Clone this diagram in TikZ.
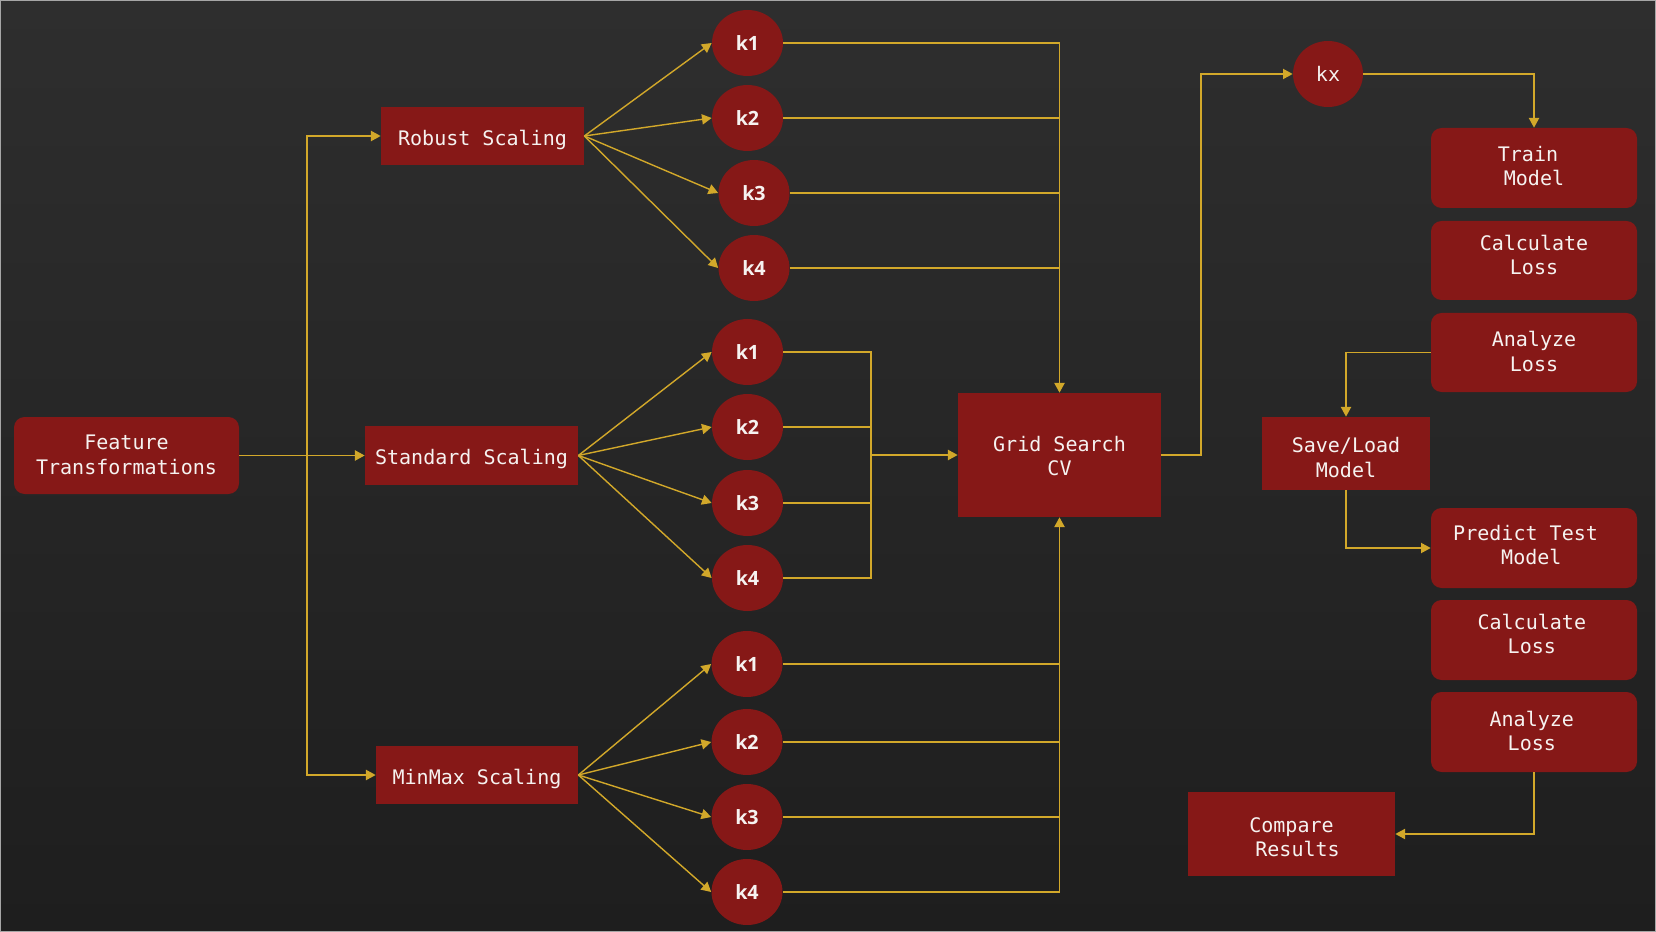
\documentclass[tikz,border=0pt]{standalone}
\usepackage{fontspec}
\usetikzlibrary{arrows.meta,shapes.geometric}
\newfontfamily\boxfont{DejaVu Sans Mono}
\newfontfamily\kfont{Open Sans}
\definecolor{bgtop}{HTML}{2E2E2E}
\definecolor{bgbot}{HTML}{1E1E1E}
\definecolor{boxred}{HTML}{861817}
\definecolor{linegold}{HTML}{D2A82A}
\definecolor{txt}{HTML}{F6F2F0}
\def\pxu{0.02cm}
% two-line label, shifted vertically by #1
\newcommand\twol[3]{\raisebox{\dimexpr#1-1.4pt\relax}[\height][\depth]{\begin{tabular}{@{}c@{}}#2\\#3\end{tabular}}}
% one-line label, shifted vertically by #1
\newcommand\onel[2]{\raisebox{#1}[\height][\depth]{#2}}
\tikzset{
  base/.style={fill=boxred, draw=none, text=txt, inner sep=0pt, align=center,
    font=\boxfont\fontsize{11.4}{14}\selectfont},
  sqbox/.style={base, rectangle},
  rbox/.style={base, rectangle, rounded corners=6pt},
  kell/.style={base, ellipse, minimum width=71*\pxu, minimum height=66*\pxu,
    font=\kfont\bfseries\fontsize{11.2}{13}\selectfont},
  kxell/.style={base, ellipse, minimum width=70*\pxu, minimum height=66*\pxu},
  conn/.style={draw=linegold, line width=0.8pt},
  arr/.style={conn, -{Triangle[length=5.5pt,width=5.8pt]}},
}
\begin{document}
\begin{tikzpicture}[x=0.02cm, y=-0.02cm]
\useasboundingbox (0,0) rectangle (1656,932);
\shade[top color=bgtop, bottom color=bgbot] (0,0) rectangle (1656,932);
\draw[gray!70, line width=1.1pt] (0.5,0.5) rectangle (1655.5,931.5);

% left column
\node[rbox, minimum width=225*\pxu, minimum height=77*\pxu] (feat) at (126.5,455.5) {\twol{0.6pt}{Feature}{Transformations}};
\node[sqbox, minimum width=203*\pxu, minimum height=58*\pxu] (robust) at (482.5,136) {\onel{-2.3pt}{Robust Scaling}};
\node[sqbox, minimum width=213*\pxu, minimum height=59*\pxu] (standard) at (471.5,455.5) {\onel{-1.8pt}{Standard Scaling}};
\node[sqbox, minimum width=202*\pxu, minimum height=58*\pxu] (minmax) at (477,775) {\onel{-2.1pt}{MinMax Scaling}};

% k nodes
\node[kell] (rk1) at (747.5,43) {k1};
\node[kell] (rk2) at (747.5,118) {k2};
\node[kell] (rk3) at (754,193) {k3};
\node[kell] (rk4) at (754,268) {k4};
\node[kell] (sk1) at (747.5,352) {k1};
\node[kell] (sk2) at (747.5,427) {k2};
\node[kell] (sk3) at (747.5,503) {k3};
\node[kell] (sk4) at (747.5,578) {k4};
\node[kell] (mk1) at (747,664) {k1};
\node[kell] (mk2) at (747,742) {k2};
\node[kell] (mk3) at (747,817) {k3};
\node[kell] (mk4) at (747,892) {k4};

% grid search
\node[sqbox, minimum width=203*\pxu, minimum height=124*\pxu] (grid) at (1059.5,455) {\twol{-0.6pt}{Grid Search}{CV}};
\node[kxell] (kx) at (1328,74) {kx};

% right column
\node[rbox, minimum width=206*\pxu, minimum height=80*\pxu] (train) at (1534,168) {\twol{1.1pt}{Train\hphantom{x}}{Model}};
\node[rbox, minimum width=206*\pxu, minimum height=79*\pxu] (calc1) at (1534,260.5) {\twol{3.1pt}{Calculate}{Loss}};
\node[rbox, minimum width=206*\pxu, minimum height=79*\pxu] (anal1) at (1534,352.5) {\twol{0.6pt}{Analyze}{Loss}};
\node[sqbox, minimum width=168*\pxu, minimum height=73*\pxu] (save) at (1346,453.5) {\twol{-2.2pt}{Save/Load}{Model}};
\node[rbox, minimum width=206*\pxu, minimum height=80*\pxu] (pred) at (1534,548) {\twol{1.7pt}{Predict Test\rule{9.6pt}{0pt}}{Model\rule{3pt}{0pt}}};
\node[rbox, minimum width=206*\pxu, minimum height=80*\pxu] (calc2) at (1534,640) {\twol{3.4pt}{Calculate\rule{2.5pt}{0pt}}{Loss\rule{2.5pt}{0pt}}};
\node[rbox, minimum width=206*\pxu, minimum height=80*\pxu] (anal2) at (1534,732) {\twol{0.6pt}{Analyze\rule{2.5pt}{0pt}}{Loss\rule{2.5pt}{0pt}}};
\node[sqbox, minimum width=207*\pxu, minimum height=84*\pxu] (comp) at (1291.5,834) {\twol{-1.7pt}{Compare}{\ Results}};

% coordinates for junctions
\coordinate (fv) at (307,455.5);
\coordinate (sm) at (871,455);
\coordinate (gx) at (1201,455);

% feature to scalings
\draw[arr] (feat.east) -- (standard.west);
\draw[arr] (fv) |- (robust.west);
\draw[arr] (fv) |- (minmax.west);

% fans
\foreach \i in {1,2,3,4}{
  \draw[arr] (robust.east) -- (rk\i.west);
  \draw[arr] (standard.east) -- (sk\i.west);
  \draw[arr] (minmax.east) -- (mk\i.west);
}

% robust merge
\draw[arr] (rk1.east) -| (grid.north);
\draw[conn] (rk2.east) -- (rk2.east -| grid.north);
\draw[conn] (rk3.east) -- (rk3.east -| grid.north);
\draw[conn] (rk4.east) -- (rk4.east -| grid.north);

% standard merge
\draw[conn] (sk1.east) -| (sm) |- (sk4.east);
\draw[conn] (sk2.east) -- (sk2.east -| sm);
\draw[conn] (sk3.east) -- (sk3.east -| sm);
\draw[arr] (sm) -- (grid.west);

% minmax merge
\draw[arr] (mk4.east) -| (grid.south);
\draw[conn] (mk1.east) -- (mk1.east -| grid.south);
\draw[conn] (mk2.east) -- (mk2.east -| grid.south);
\draw[conn] (mk3.east) -- (mk3.east -| grid.south);

% grid to kx
\draw[arr] (grid.east) -- (gx) |- (kx.west);
\draw[arr] (kx.east) -| (train.north);
\draw[arr] (anal1.west) -| (save.north);
\draw[arr] (save.south) |- (pred.west);
\draw[arr] (anal2.south) |- (comp.east);
\end{tikzpicture}
\end{document}
